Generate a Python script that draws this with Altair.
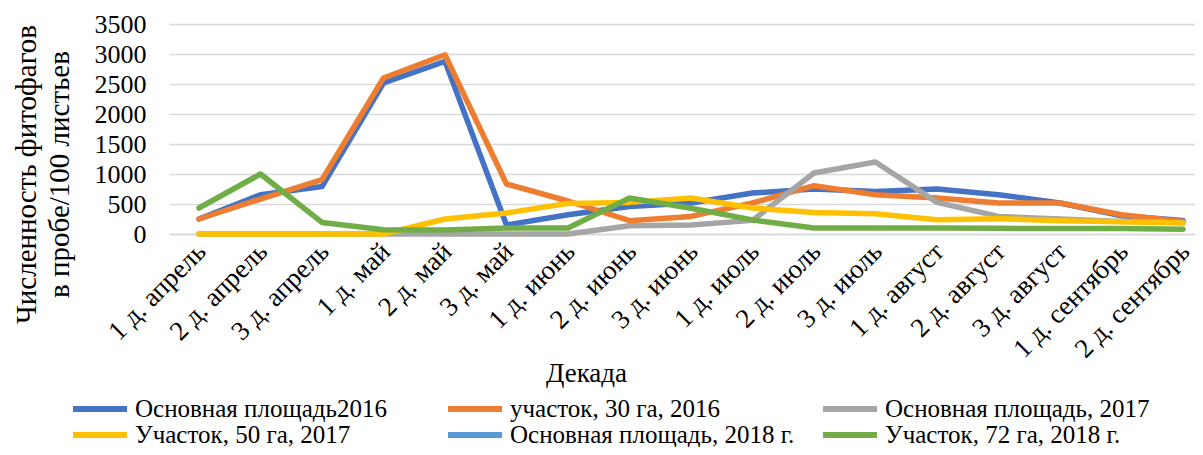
import altair as alt
import pandas as pd

categories = ["1 д. апрель", "2 д. апрель", "3 д. апрель", "1 д. май", "2 д. май", "3 д. май",
              "1 д. июнь", "2 д. июнь", "3 д. июнь", "1 д. июль", "2 д. июль", "3 д. июль",
              "1 д. август", "2 д. август", "3 д. август", "1 д. сентябрь", "2 д. сентябрь"]

series_names = ["Основная площадь2016", "участок, 30 га, 2016", "Основная площадь, 2017",
                "Участок, 50 га, 2017", "Основная площадь, 2018 г.", "Участок, 72 га, 2018 г."]

s_main_2016 = [250, 655, 790, 2517, 2877, 150, 322, 460, 517, 683, 750, 710, 750, 655, 517, 305, 227]
s_30ha_2016 = [250, 583, 905, 2600, 2988, 833, 550, 222, 293, 517, 805, 655, 600, 517, 517, 322, 210]
s_main_2017 = [0, 0, 0, 0, 0, 0, 0, 138, 150, 227, 1017, 1200, 527, 293, 250, 210, 190]
s_50ha_2017 = [0, 0, 0, 0, 250, 350, 510, 527, 600, 433, 360, 338, 238, 255, 222, 205, 183]
s_main_2018 = [None] * 17
s_72ha_2018 = [433, 1000, 193, 72, 65, 100, 100, 600, 430, 235, 100, 100, 100, 95, 90, 90, 80]

colors = ["#4472C4", "#ED7D31", "#A5A5A5", "#FFC000", "#5B9BD5", "#70AD47"]
y_ticks = [0, 500, 1000, 1500, 2000, 2500, 3000, 3500]

all_series = [s_main_2016, s_30ha_2016, s_main_2017, s_50ha_2017, s_main_2018, s_72ha_2018]
rows = []
for name, vals in zip(series_names, all_series):
    for cat, v in zip(categories, vals):
        rows.append({"decade": cat, "series": name, "value": v})
df = pd.DataFrame(rows)

FONT = "Liberation Serif"

chart = alt.Chart(df).mark_line(strokeWidth=5.5, strokeCap="round", strokeJoin="round").encode(
    x=alt.X("decade:N", sort=categories,
            scale=alt.Scale(type="point", padding=0.3415, align=0.714),
            axis=alt.Axis(title="Декада", labelAngle=-45, labelFontSize=27, labelFont=FONT,
                          labelColor="#000000", titleFont=FONT, titleFontSize=27,
                          titleFontWeight="normal", titleColor="#000000",
                          titleX=417, titleY=139, titleAlign="center", titleBaseline="middle",
                          ticks=False, domainColor="#D9D9D9", domainWidth=1.5,
                          labelPadding=4, labelOffset=-7, grid=False)),
    y=alt.Y("value:Q", scale=alt.Scale(domain=[0, 3500], nice=False),
            axis=alt.Axis(values=y_ticks, format="d",
                          title=["Численность фитофагов", "в пробе/100 листьев"],
                          titleFont=FONT, titleFontSize=29, titleFontWeight="normal",
                          titleColor="#000000", titleLineHeight=33,
                          titleX=-143, titleY=150, titleAlign="center", titleBaseline="middle",
                          labelFont=FONT, labelFontSize=26, labelColor="#000000",
                          ticks=False, domain=False, labelPadding=23,
                          gridColor="#D9D9D9", gridWidth=1.5)),
    color=alt.Color("series:N", sort=series_names,
                    scale=alt.Scale(domain=series_names, range=colors),
                    legend=alt.Legend(title=None, orient="none", legendX=-82, legendY=372,
                                      direction="horizontal", columns=3, gridAlign="all",
                                      columnPadding=16, rowPadding=-2,
                                      symbolType="M-2.7,0H2.7", symbolSize=400,
                                      symbolStrokeWidth=6, labelFont=FONT,
                                      labelFontSize=25, labelColor="#000000",
                                      labelOffset=22, padding=0, labelLimit=450)),
).properties(
    width=1026, height=210,
    autosize=alt.AutoSizeParams(type="none"),
    padding={"left": 161, "top": 16, "right": 0, "bottom": 213},
).configure_view(stroke=None)

chart.save("out.html", embed_options={"renderer": "svg", "actions": False})
